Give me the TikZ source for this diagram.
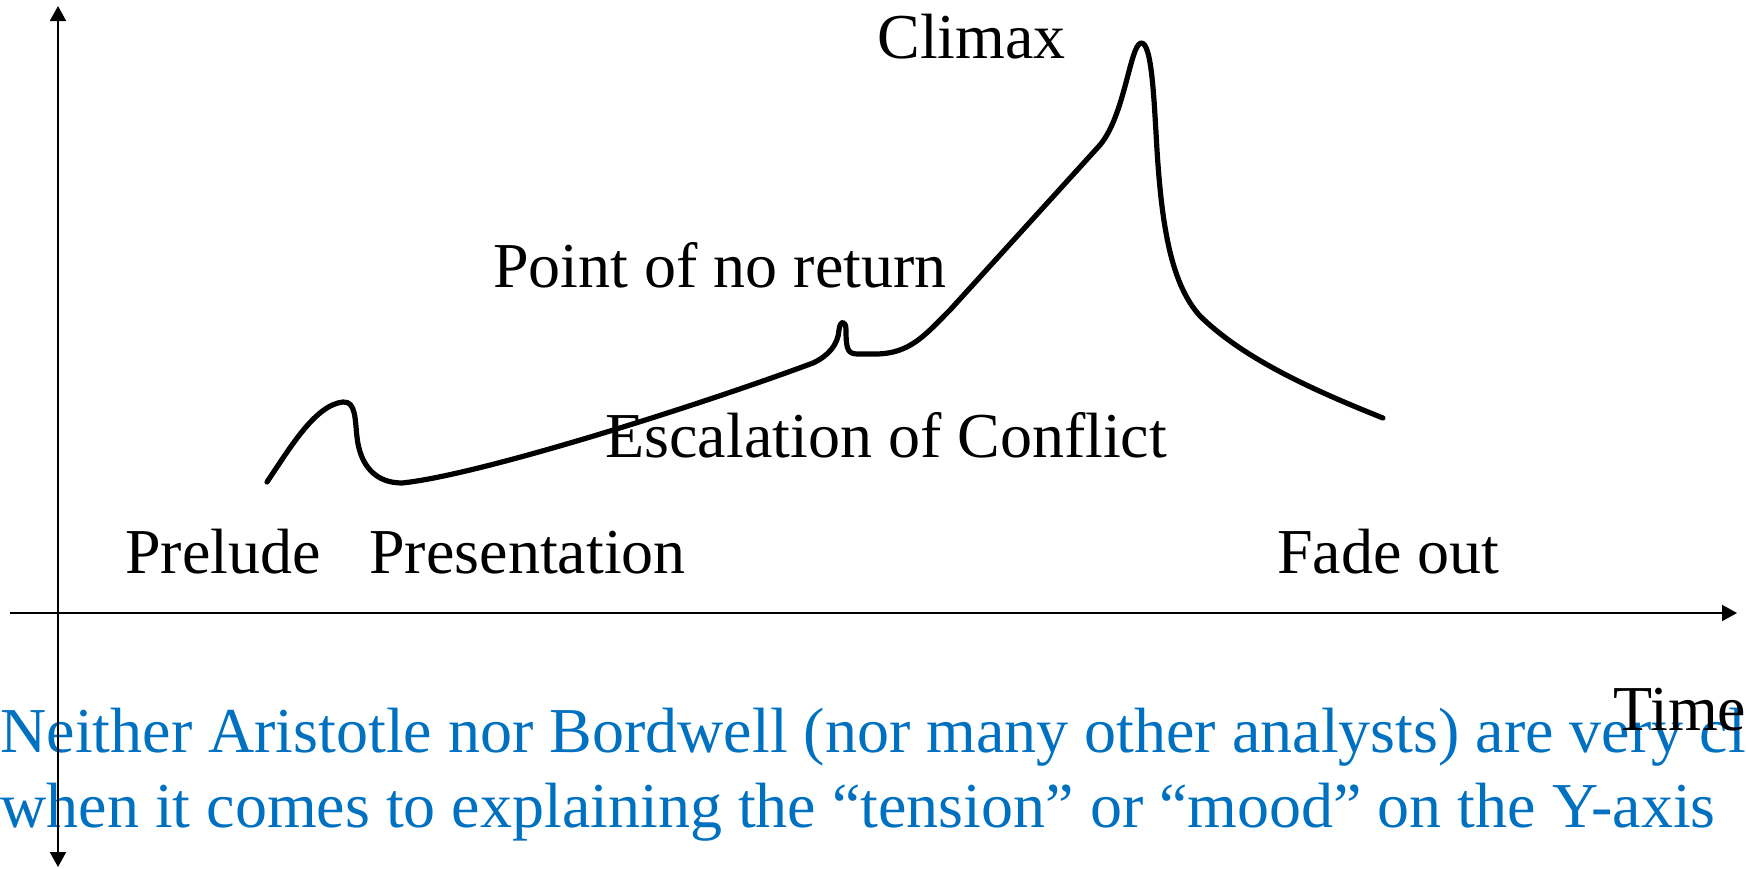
\documentclass[tikz,border=0pt]{standalone}
\usepackage{fontspec}
\setmainfont{Liberation Serif}
\usetikzlibrary{arrows.meta}
\definecolor{pblue}{RGB}{0,112,192}
\begin{document}
\begin{tikzpicture}[x=0.5pt,y=-0.5pt,
  lbl/.style={anchor=base west,inner sep=0pt,font=\fontsize{32}{37.5}\selectfont},
  note/.style={lbl,text=pblue},
  axisline/.style={line width=1pt},
  axistip/.tip={Triangle[width=8pt,length=7.5pt]},
  story/.style={line width=2.6pt,line cap=round,line join=round}]
\useasboundingbox (0,0) rectangle (1746,868);
\clip (0,0) rectangle (1746,868);
% blue note (under the axes)
\node[note] (note1) at (0,752) {Neither Aristotle nor Bordwell (nor many other analysts) are very clear};
\node[note] (note2) at (0,827) {when it comes to explaining the “tension” or “mood” on the Y-axis};
% axes
\coordinate (ytop) at (58,6);
\coordinate (ybot) at (58,867);
\coordinate (xl) at (10,613);
\coordinate (xr) at (1737,613);
\draw[axisline,axistip-axistip] (ybot) -- (ytop);
\draw[axisline,-axistip] (xl) -- (xr);
% labels
\node[lbl] (climax) at (877,58) {Climax};
\node[lbl] (ponr) at (493,287) {Point of no return};
\node[lbl] (esc) at (605,457) {Escalation of Conflict};
\node[lbl] (prelude) at (125,573) {Prelude};
\node[lbl] (present) at (369,573) {Presentation};
\node[lbl] (fade) at (1277,573) {Fade out};
\node[lbl] (time) at (1613,730) {Time};
% tension curve
\draw[story] (267,482) .. controls (290,448) and (315,405) .. (343,402)
  .. controls (356,401) and (355,420) .. (357,437)
  .. controls (360,465) and (375,483) .. (402,483)
  .. controls (480,475) and (700,405) .. (813,363)
  .. controls (828,356) and (838,345) .. (839,330)
  .. controls (840,320) and (846,320) .. (846,330)
  .. controls (846,350) and (848,354) .. (858,354)
  -- (875,354)
  .. controls (910,354) and (925,335) .. (950,310)
  -- (1100,145)
  .. controls (1125,115) and (1130,45) .. (1141,43)
  .. controls (1152,42) and (1154,100) .. (1157,150)
  .. controls (1162,230) and (1172,285) .. (1200,316)
  .. controls (1240,355) and (1300,385) .. (1383,418);
\end{tikzpicture}
\end{document}
